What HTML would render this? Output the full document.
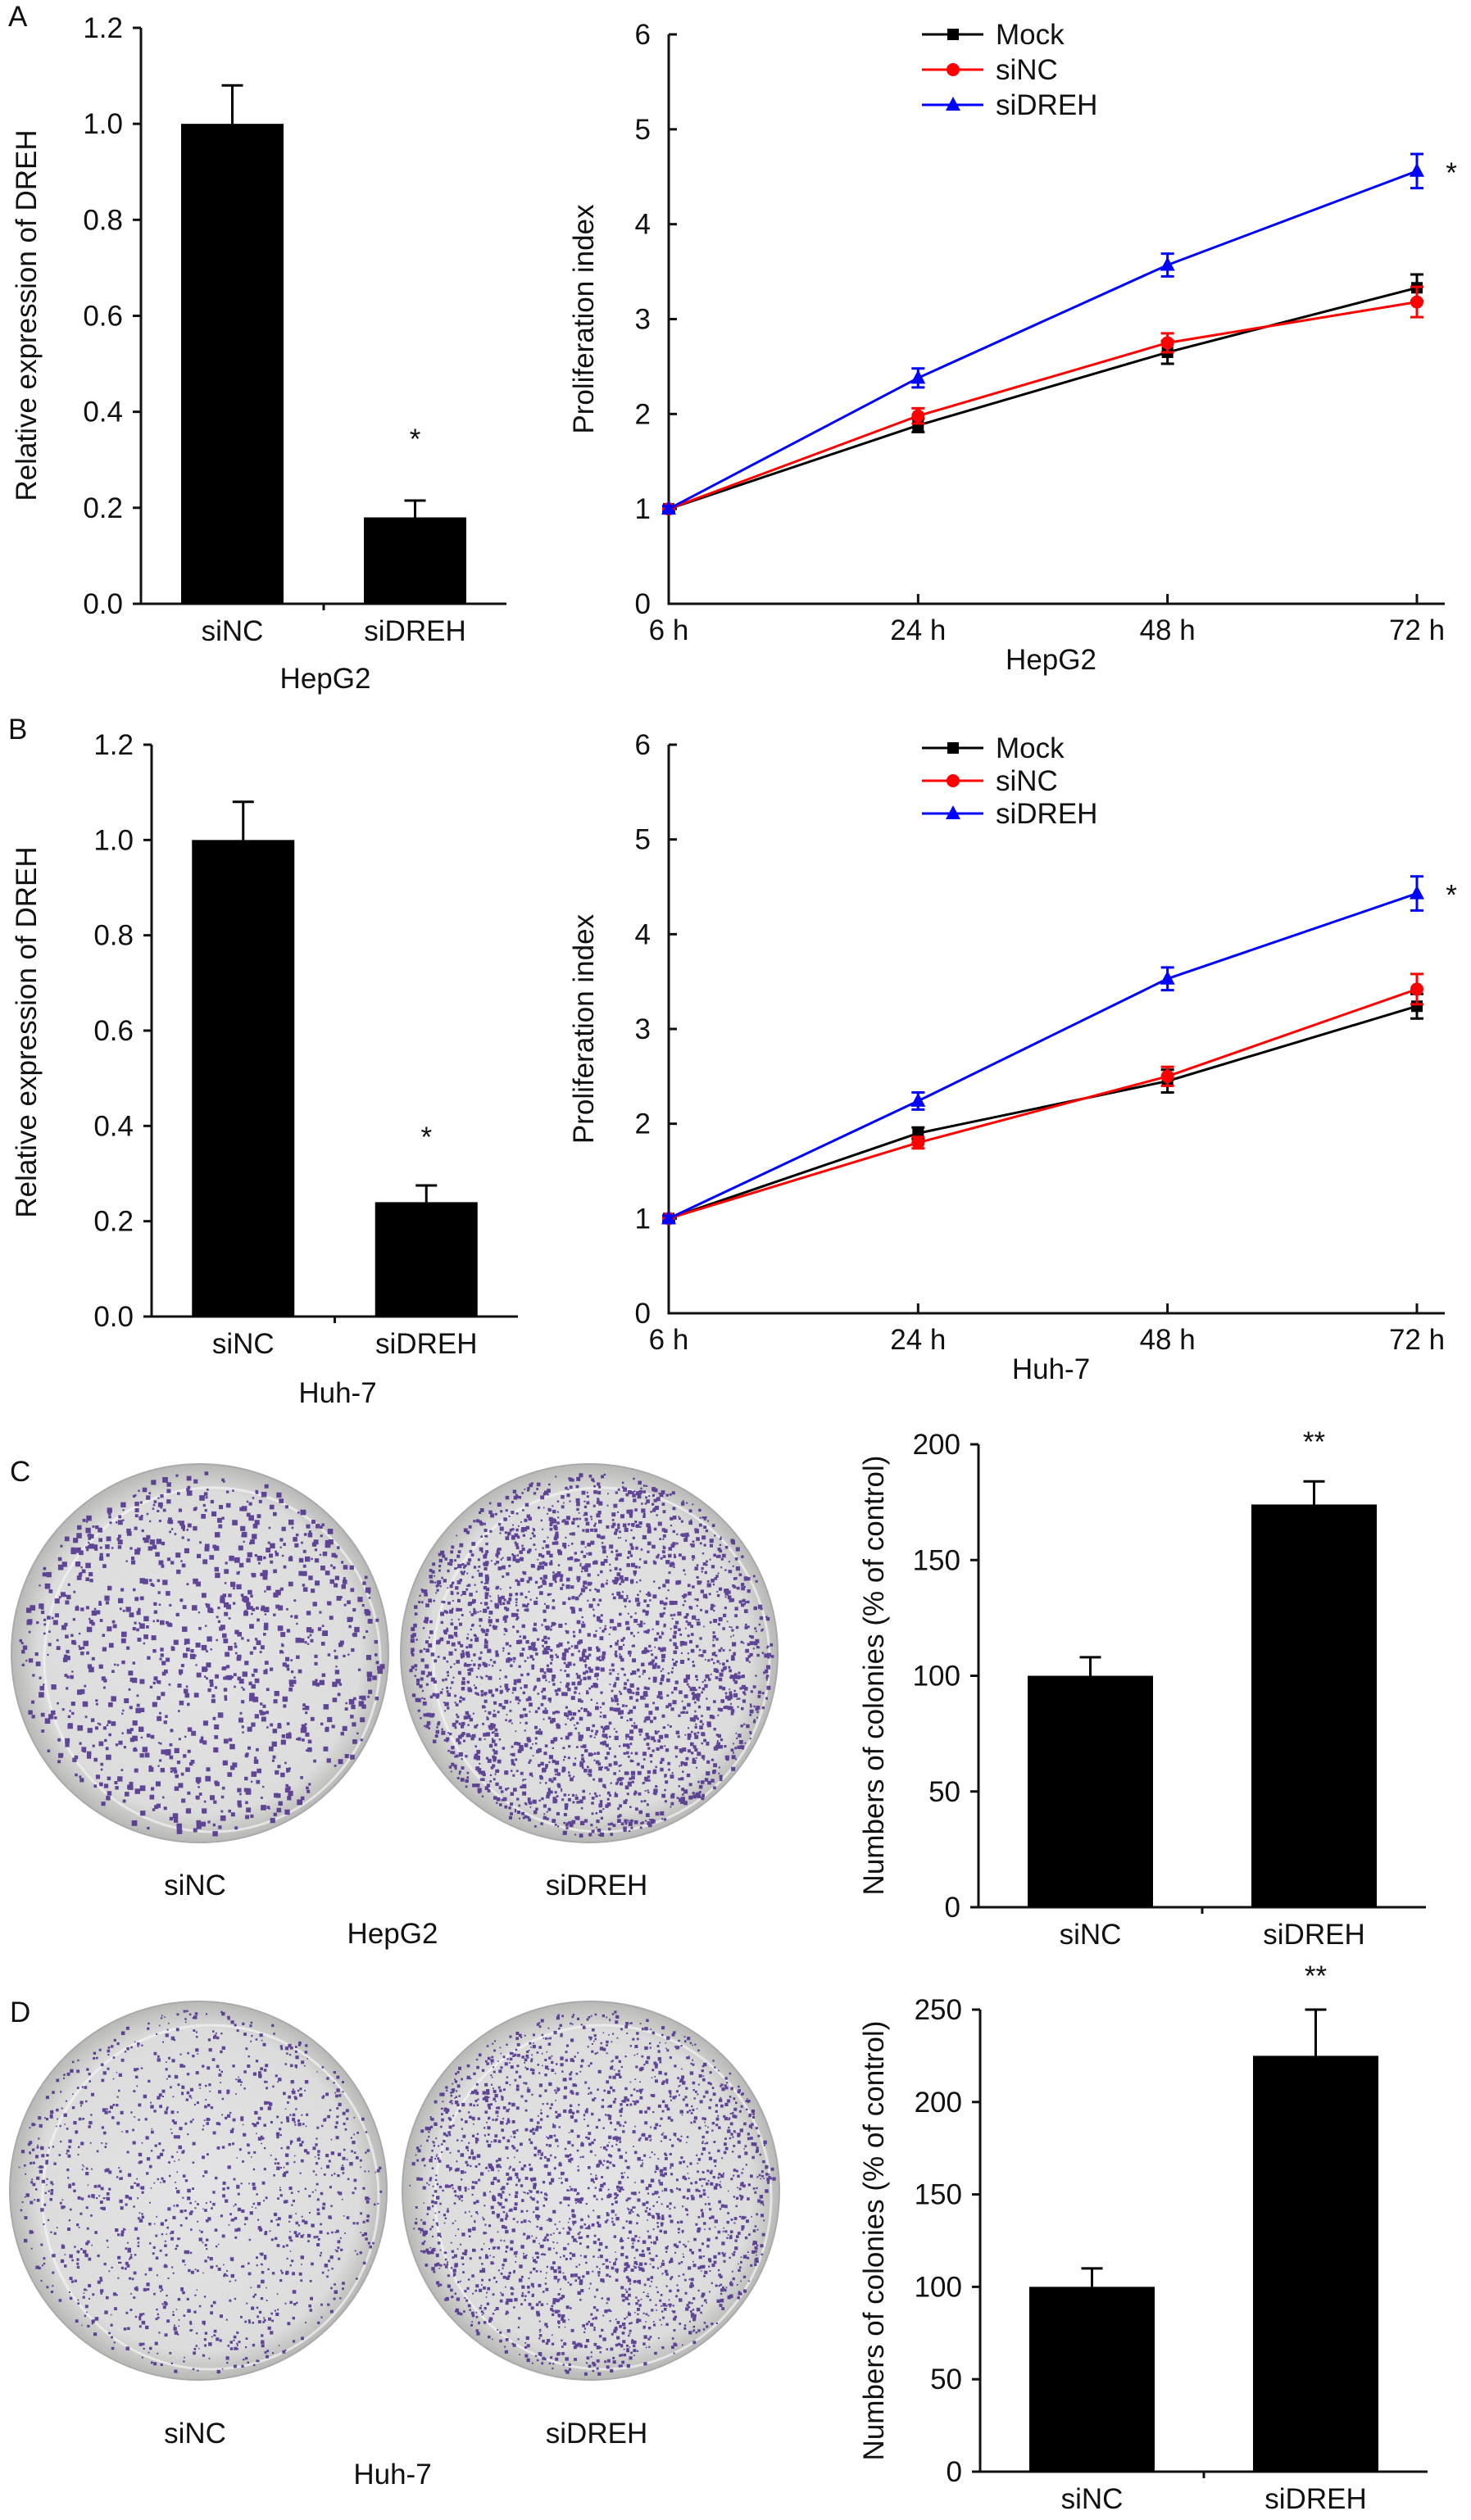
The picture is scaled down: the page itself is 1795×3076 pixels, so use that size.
<!DOCTYPE html>
<html><head><meta charset="utf-8"><style>
html,body{margin:0;padding:0;background:#fff}
svg{display:block}
text{font-family:"Liberation Sans",Arial,sans-serif;font-size:35px;fill:#111}
</style></head><body>
<svg id="fig" width="1795" height="3076" viewBox="0 0 1795 3076" xmlns="http://www.w3.org/2000/svg">
<text x="10" y="32">A</text>
<text x="10" y="902">B</text>
<text x="12" y="1808">C</text>
<text x="12" y="2468">D</text>
</svg>
<script>
// ---- data ----
const barCats = ["siNC","siDREH"];
const exprA = [1.0, 0.18];
const exprAErr = [0.08, 0.035];
const exprB = [1.0, 0.24];
const exprBErr = [0.08, 0.035];
const timeCats = ["6 h","24 h","48 h","72 h"];
const seriesNames = ["Mock","siNC","siDREH"];
const mockA = [1, 1.88, 2.65, 3.33];
const sincA = [1, 1.98, 2.75, 3.18];
const sidrehA = [1, 2.38, 3.57, 4.56];
const mockAErr = [0.03, 0.07, 0.12, 0.14];
const sincAErr = [0.03, 0.08, 0.1, 0.16];
const sidrehAErr = [0.03, 0.1, 0.12, 0.18];
const mockB = [1, 1.9, 2.45, 3.24];
const sincB = [1, 1.8, 2.5, 3.42];
const sidrehB = [1, 2.24, 3.53, 4.43];
const mockBErr = [0.03, 0.06, 0.12, 0.13];
const sincBErr = [0.03, 0.06, 0.1, 0.16];
const sidrehBErr = [0.03, 0.09, 0.12, 0.18];
const colC = [100, 174];
const colCErr = [8, 10];
const colD = [100, 225];
const colDErr = [10, 25];
const exprTicks = ["0.0","0.2","0.4","0.6","0.8","1.0","1.2"];
const profTicks = ["0","1","2","3","4","5","6"];
const colCTicks = ["0","50","100","150","200"];
const colDTicks = ["0","50","100","150","200","250"];

const NS="http://www.w3.org/2000/svg";
const svg=document.getElementById('fig');
function mk(tag,attrs,parent){const e=document.createElementNS(NS,tag);for(const k in attrs)e.setAttribute(k,attrs[k]);(parent||svg).appendChild(e);return e;}
function txt(x,y,s,anchor,parent,name){const t=mk('text',{x:x,y:y,'text-anchor':anchor||'middle'},parent);t.textContent=s;


return t;}

function barChart(o){
  const g=mk('g',{});
  
  
  const ymax=o.max;
  const Y=v=>o.y0-(v/ymax)*(o.y0-o.yTop);
  const L=mk('path',{d:`M${o.x0},${o.yTop}V${o.y0}H${o.x1}`,stroke:'#111','stroke-width':3,fill:'none'},g);
  
  
  o.ticks.forEach((t,i)=>{const v=parseFloat(t);const y=Y(v);
    mk('line',{x1:o.x0-10,x2:o.x0,y1:y,y2:y,stroke:'#111','stroke-width':3},g);
    txt(o.x0-22,y+12,t,'end',g,'y-tick-label');});
  const n=o.vals.length, w=(o.x1-o.x0)/n;
  mk('line',{x1:o.x0+w,x2:o.x0+w,y1:o.y0,y2:o.y0+8,stroke:'#111','stroke-width':3},g);
  o.vals.forEach((v,i)=>{
    const cx=o.x0+w*(i+0.5), bw=o.bw;
    const r=mk('rect',{x:cx-bw/2,y:Y(v),width:bw,height:o.y0-Y(v),fill:'#000'},g);
    
    
    const ye=Y(v+o.err[i]);
    mk('path',{d:`M${cx},${Y(v)}V${ye}M${cx-13},${ye}H${cx+13}`,stroke:'#000','stroke-width':3,fill:'none'},g);
    txt(cx,o.y0+45,barCats[i],'middle',g,'x-tick-label');
    if(o.stars&&o.stars[i]){txt(cx,o.starY,o.stars[i],'middle',g,'significance-mark');}
  });
  if(o.group)txt(o.groupX,o.groupY,o.group,'middle',g,'x-axis-group-label');
  const t=txt(0,0,o.ytitle,'middle',g,'y-axis-title');
  t.setAttribute('transform',`translate(${o.titleX},${o.titleY}) rotate(-90)`);
}

function lineChart(o){
  const g=mk('g',{});
  
  
  const Y=v=>o.y0-(v/6)*(o.y0-o.yTop);
  const X=i=>o.x0+i*(o.xLast-o.x0)/(timeCats.length-1);
  mk('path',{d:`M${o.x0},${o.yTop}V${o.y0}H${o.x1}`,stroke:'#111','stroke-width':3,fill:'none'},g);
  profTicks.forEach(t=>{const y=Y(+t);mk('line',{x1:o.x0,x2:o.x0+10,y1:y,y2:y,stroke:'#111','stroke-width':3},g);txt(o.x0-22,y+12,t,'end',g,'y-tick-label');});
  timeCats.forEach((c,i)=>{const x=X(i);if(i>0)mk('line',{x1:x,x2:x,y1:o.y0,y2:o.y0-12,stroke:'#111','stroke-width':3},g);txt(x,o.y0+44,c,'middle',g,'x-tick-label');});
  const colors=['#000','#f00','#00f'];
  o.series.forEach((s,si)=>{
    const col=colors[si];
    const p=mk('polyline',{points:s.map((v,i)=>X(i)+','+Y(v)).join(' '),fill:'none',stroke:col,'stroke-width':3},g);
    
    
    s.forEach((v,i)=>{const x=X(i),y=Y(v),e=o.errs[si][i];
      mk('path',{d:`M${x},${Y(v-e)}V${Y(v+e)}M${x-8},${Y(v-e)}H${x+8}M${x-8},${Y(v+e)}H${x+8}`,stroke:col,'stroke-width':3,fill:'none'},g);
      marker(g,si,x,y,col);});
  });
  txt(o.x1+8,Y(o.series[2][3])+14,'*','middle',g,'significance-mark');
  txt((o.x0+o.xLast)/2+10,o.y0+80,o.group,'middle',g,'x-axis-group-label');
  const t=txt(0,0,'Proliferation index','middle',g,'y-axis-title');
  t.setAttribute('transform',`translate(${o.x0-92},${(o.y0+o.yTop)/2}) rotate(-90)`);
  seriesNames.forEach((n,i)=>{const y=o.legY+i*o.legDy;
    const lg=mk('g',{},g);
    
    
    mk('line',{x1:o.legX,x2:o.legX+75,y1:y,y2:y,stroke:colors[i],'stroke-width':3},lg);
    marker(lg,i,o.legX+38,y,colors[i]);
    txt(o.legX+90,y+12,n,'start',lg,'legend-label');});
}
function marker(g,si,x,y,col){
  if(si===0)mk('rect',{x:x-7,y:y-7,width:14,height:14,fill:col},g);
  else if(si===1)mk('circle',{cx:x,cy:y,r:8,fill:col},g);
  else mk('path',{d:`M${x},${y-10}L${x+9},${y+7}L${x-9},${y+7}Z`,fill:col},g);
}

barChart({name:'expression-chart-hepg2',x0:172,x1:618,yTop:34,y0:737,max:1.2,bw:125,vals:exprA,err:exprAErr,ticks:exprTicks,stars:['','*'],starY:548,group:'HepG2',groupX:397,groupY:840,ytitle:'Relative expression of DREH',titleX:44,titleY:385});
lineChart({name:'proliferation-chart-hepg2',x0:816,xLast:1729,x1:1763,yTop:42,y0:737,series:[mockA,sincA,sidrehA],errs:[mockAErr,sincAErr,sidrehAErr],group:'HepG2',legX:1125,legY:42,legDy:43});
barChart({name:'expression-chart-huh7',x0:185,x1:632,yTop:909,y0:1607,max:1.2,bw:125,vals:exprB,err:exprBErr,ticks:exprTicks,stars:['','*'],starY:1400,group:'Huh-7',groupX:412,groupY:1712,ytitle:'Relative expression of DREH',titleX:44,titleY:1260});
lineChart({name:'proliferation-chart-huh7',x0:816,xLast:1729,x1:1763,yTop:909,y0:1603,series:[mockB,sincB,sidrehB],errs:[mockBErr,sincBErr,sidrehBErr],group:'Huh-7',legX:1125,legY:913,legDy:40});
barChart({name:'colony-chart-hepg2',x0:1194,x1:1740,yTop:1763,y0:2328,max:200,bw:153,vals:colC,err:colCErr,ticks:colCTicks,stars:['','**'],starY:1772,ytitle:'Numbers of colonies (% of control)',titleX:1078,titleY:2045});
barChart({name:'colony-chart-huh7',x0:1196,x1:1742,yTop:2453,y0:3017,max:250,bw:153,vals:colD,err:colDErr,ticks:colDTicks,stars:['','**'],starY:2424,ytitle:'Numbers of colonies (% of control)',titleX:1078,titleY:2735});

// plates (photo texture, decorative)
let seed=7;function rnd(){seed=(seed*16807)%2147483647;return seed/2147483647;}
const defs=mk('defs',{});
const gr=mk('radialGradient',{id:'pg',cx:'50%',cy:'50%',r:'50%'},defs);
mk('stop',{offset:'0%','stop-color':'#e4e4e6'},gr);mk('stop',{offset:'85%','stop-color':'#dcdcdc'},gr);mk('stop',{offset:'100%','stop-color':'#b8b8b6'},gr);
function plate(cx,cy,name,n,size){
  const g=mk('g',{});
  
  
  mk('ellipse',{cx:cx,cy:cy,rx:230,ry:231,fill:'url(#pg)',stroke:'#aaa','stroke-width':2},g);
  mk('ellipse',{cx:cx+15,cy:cy+8,rx:205,ry:210,fill:'none',stroke:'#f4f4f4','stroke-width':3,opacity:0.7},g);
  let d='';
  for(let i=0;i<n;i++){const a=rnd()*6.283, r=Math.sqrt(rnd())*222;
    const x=cx+r*Math.cos(a), y=cy+r*Math.sin(a), s=size*(0.5+rnd());
    d+=`M${x.toFixed(1)},${y.toFixed(1)}h${s.toFixed(1)}v${s.toFixed(1)}h-${s.toFixed(1)}z`;}
  mk('path',{d:d,fill:'#4a2a8a',opacity:0.85},g);
}
plate(244,2018,'plate-sinc-hepg2',1100,4.5);
plate(719,2018,'plate-sidreh-hepg2',2600,3.5);
plate(242,2674,'plate-sinc-huh7',1300,3);
plate(721,2674,'plate-sidreh-huh7',2400,3);
txt(238,2313,'siNC','middle',svg,'plate-label-sinc-hepg2');
txt(728,2313,'siDREH','middle',svg,'plate-label-sidreh-hepg2');
txt(479,2372,'HepG2','middle',svg,'plate-group-label-hepg2');
txt(238,2982,'siNC','middle',svg,'plate-label-sinc-huh7');
txt(728,2982,'siDREH','middle',svg,'plate-label-sidreh-huh7');
txt(479,3032,'Huh-7','middle',svg,'plate-group-label-huh7');
</script>
</body></html>
